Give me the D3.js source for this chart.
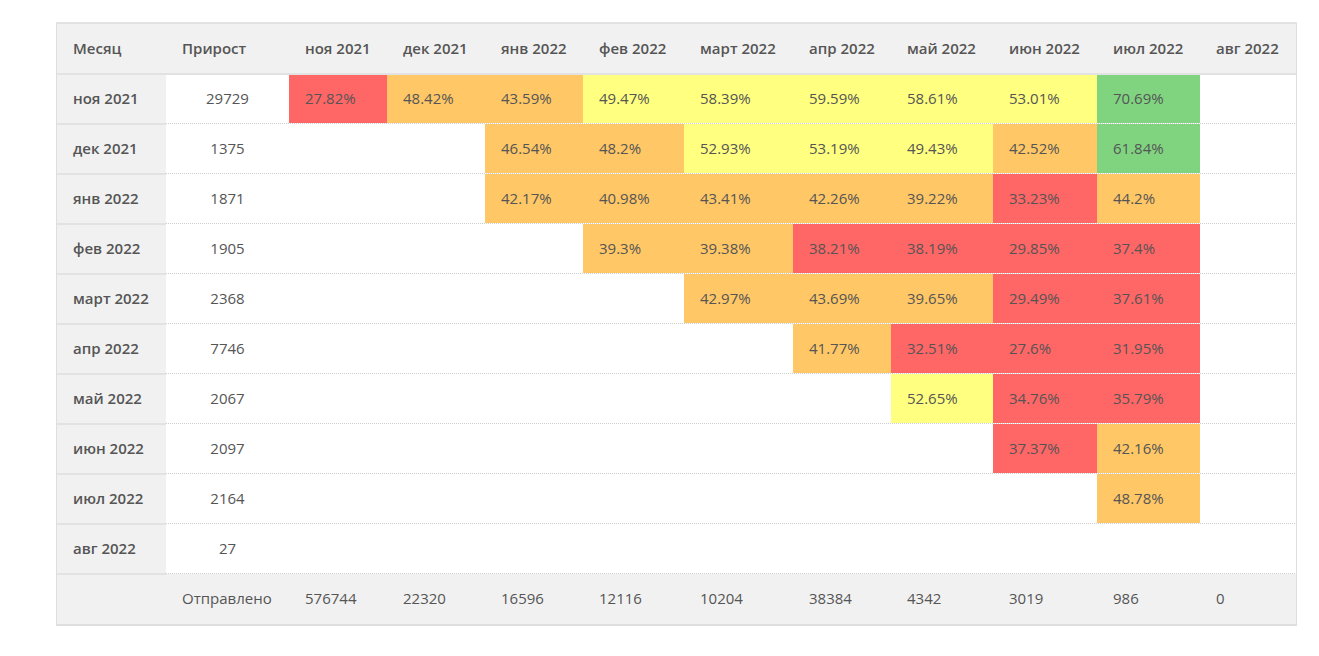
<!DOCTYPE html>
<html>
<head>
<meta charset="utf-8">
<script src="https://d3js.org/d3.v7.min.js"></script>
<style>
  body { margin: 0; background: #fff; }
  svg text { font-family: "Open Sans", sans-serif; font-size: 15px; fill: #555; }
</style>
</head>
<body>
<svg id="vis"></svg>
<script>
    // cohort months (rows and columns)
    var months = ["ноя 2021", "дек 2021", "янв 2022", "фев 2022", "март 2022", "апр 2022", "май 2022", "июн 2022", "июл 2022", "авг 2022"];
    // growth per cohort
    var growth = [29729, 1375, 1871, 1905, 2368, 7746, 2067, 2097, 2164, 27];
    // sent per month (footer)
    var sent = [576744, 22320, 16596, 12116, 10204, 38384, 4342, 3019, 986, 0];
    // retention % per cohort row, one entry per month column (null = empty)
    var retention = [
        [27.82, 48.42, 43.59, 49.47, 58.39, 59.59, 58.61, 53.01, 70.69, null],
        [null, null, 46.54, 48.2, 52.93, 53.19, 49.43, 42.52, 61.84, null],
        [null, null, 42.17, 40.98, 43.41, 42.26, 39.22, 33.23, 44.2, null],
        [null, null, null, 39.3, 39.38, 38.21, 38.19, 29.85, 37.4, null],
        [null, null, null, null, 42.97, 43.69, 39.65, 29.49, 37.61, null],
        [null, null, null, null, null, 41.77, 32.51, 27.6, 31.95, null],
        [null, null, null, null, null, null, 52.65, 34.76, 35.79, null],
        [null, null, null, null, null, null, null, 37.37, 42.16, null],
        [null, null, null, null, null, null, null, null, 48.78, null],
        [null, null, null, null, null, null, null, null, null, null]
    ];
    var headMonth = "Месяц", headGrowth = "Прирост", footLabel = "Отправлено";

    var W = 1319, H = 656;
    var tLeft = 57, tRight = 1296, tTop = 24, tBottom = 624;
    var pad = 16;

    var svg = d3.select("#vis").attr("width", W).attr("height", H);

    //Measure text to size the columns like an auto table
    var measure = svg.append("text");
    function textW(t, bold) {
        measure.style("font-weight", bold ? 600 : 400).text(t);
        return measure.node().getComputedTextLength();
    }
    var colWidths = [];
    colWidths.push(d3.max([headMonth].concat(months), function(t) { return textW(t, true); }) + 2 * pad);
    colWidths.push(d3.max([textW(headGrowth, true), textW(footLabel, false)].concat(growth.map(function(g) { return textW(String(g), false); }))) + 2 * pad);
    months.forEach(function(m, j) {
        var ws = [textW(m, true), textW(String(sent[j]), false)];
        retention.forEach(function(r) { if (r[j] != null) ws.push(textW(r[j] + "%", false)); });
        colWidths.push(d3.max(ws) + 2 * pad);
    });
    measure.remove();
    var edges = [0];
    colWidths.forEach(function(w, i) { edges.push(edges[i] + w); });

    var xScale = d3.scaleLinear().domain([0, edges[edges.length - 1]]).range([tLeft, tRight]).interpolate(d3.interpolateRound);
    function colX(i) { return xScale(edges[i]); }
    function colW(i) { return xScale(edges[i + 1]) - xScale(edges[i]); }

    var rowKeys = ["head"].concat(months).concat(["foot"]);
    var yScale = d3.scaleBand().domain(rowKeys).range([tTop, tBottom]);
    var bh = yScale.bandwidth();

    var color = d3.scaleThreshold()
        .domain([39, 49, 60])
        .range(["#ff6666", "#ffc766", "#ffff80", "#80d480"]);

    //Backgrounds
    svg.append("rect").attr("x", tLeft).attr("y", tTop).attr("width", tRight - tLeft).attr("height", tBottom - tTop).attr("fill", "#fff");
    svg.append("rect").attr("x", tLeft).attr("y", yScale("head")).attr("width", tRight - tLeft).attr("height", bh).attr("fill", "#f1f1f1");
    svg.append("rect").attr("x", tLeft).attr("y", yScale("foot")).attr("width", tRight - tLeft).attr("height", bh).attr("fill", "#f1f1f1");
    svg.append("rect").attr("x", tLeft).attr("y", yScale(months[0])).attr("width", colW(0)).attr("height", bh * months.length).attr("fill", "#f1f1f1");

    //Dotted row separators in the data area
    svg.append("g").selectAll("line")
        .data(months)
        .enter().append("line")
        .attr("x1", colX(1)).attr("x2", tRight)
        .attr("y1", function(d) { return yScale(d) + bh - 0.5; })
        .attr("y2", function(d) { return yScale(d) + bh - 0.5; })
        .attr("stroke", "#cfcfcf").attr("stroke-width", 1).attr("stroke-dasharray", "1,1");

    //Retention cells
    var cells = [];
    retention.forEach(function(r, i) {
        r.forEach(function(v, j) { if (v != null) cells.push({row: months[i], col: j, v: v}); });
    });
    var cg = svg.append("g").selectAll("g").data(cells).enter().append("g");
    cg.append("rect")
        .attr("x", function(d) { return colX(d.col + 2); })
        .attr("y", function(d) { return yScale(d.row); })
        .attr("width", function(d) { return colW(d.col + 2); })
        .attr("height", bh - 1)
        .attr("fill", function(d) { return color(d.v); });
    cg.append("text")
        .attr("x", function(d) { return colX(d.col + 2) + pad; })
        .attr("y", function(d) { return yScale(d.row) + bh / 2 + 5; })
        .text(function(d) { return d.v + "%"; });

    //Solid separators in the label column
    svg.append("g").selectAll("line")
        .data(months)
        .enter().append("line")
        .attr("x1", tLeft).attr("x2", colX(1))
        .attr("y1", function(d) { return yScale(d) + bh; })
        .attr("y2", function(d) { return yScale(d) + bh; })
        .attr("stroke", "#e2e2e2").attr("stroke-width", 2);
    svg.append("line")
        .attr("x1", tLeft).attr("x2", tRight)
        .attr("y1", yScale(months[0])).attr("y2", yScale(months[0]))
        .attr("stroke", "#e2e2e2").attr("stroke-width", 2);

    //Outer border
    svg.append("line").attr("x1", tLeft - 1).attr("x2", tRight + 1).attr("y1", tTop - 1).attr("y2", tTop - 1).attr("stroke", "#e2e2e2").attr("stroke-width", 2);
    svg.append("line").attr("x1", tLeft - 1).attr("x2", tRight + 1).attr("y1", tBottom + 1).attr("y2", tBottom + 1).attr("stroke", "#dedede").attr("stroke-width", 2);
    svg.append("line").attr("x1", tLeft - 0.5).attr("x2", tLeft - 0.5).attr("y1", tTop).attr("y2", tBottom).attr("stroke", "#dedede");
    svg.append("line").attr("x1", tRight + 0.5).attr("x2", tRight + 0.5).attr("y1", tTop).attr("y2", tBottom).attr("stroke", "#dedede");

    //Header
    var headY = yScale("head") + bh / 2 + 5;
    var header = svg.append("g");
    header.append("text").attr("x", colX(0) + pad).attr("y", headY).style("font-weight", 600).text(headMonth);
    header.append("text").attr("x", colX(1) + pad).attr("y", headY).style("font-weight", 600).text(headGrowth);
    header.selectAll(".mh").data(months).enter().append("text")
        .attr("class", "mh")
        .attr("x", function(d, j) { return colX(j + 2) + pad; })
        .attr("y", headY)
        .style("font-weight", 600)
        .text(function(d) { return d; });

    //Row labels and growth
    svg.append("g").selectAll("text").data(months).enter().append("text")
        .attr("x", colX(0) + pad)
        .attr("y", function(d) { return yScale(d) + bh / 2 + 5; })
        .style("font-weight", 600)
        .text(function(d) { return d; });
    svg.append("g").selectAll("text").data(growth).enter().append("text")
        .attr("x", colX(1) + colW(1) / 2)
        .attr("y", function(d, i) { return yScale(months[i]) + bh / 2 + 5; })
        .attr("text-anchor", "middle")
        .text(function(d) { return d; });

    //Footer
    var footY = yScale("foot") + bh / 2 + 5;
    svg.append("text").attr("x", colX(1) + pad).attr("y", footY).text(footLabel);
    svg.append("g").selectAll("text").data(sent).enter().append("text")
        .attr("x", function(d, j) { return colX(j + 2) + pad; })
        .attr("y", footY)
        .text(function(d) { return d; });
</script>
</body>
</html>
